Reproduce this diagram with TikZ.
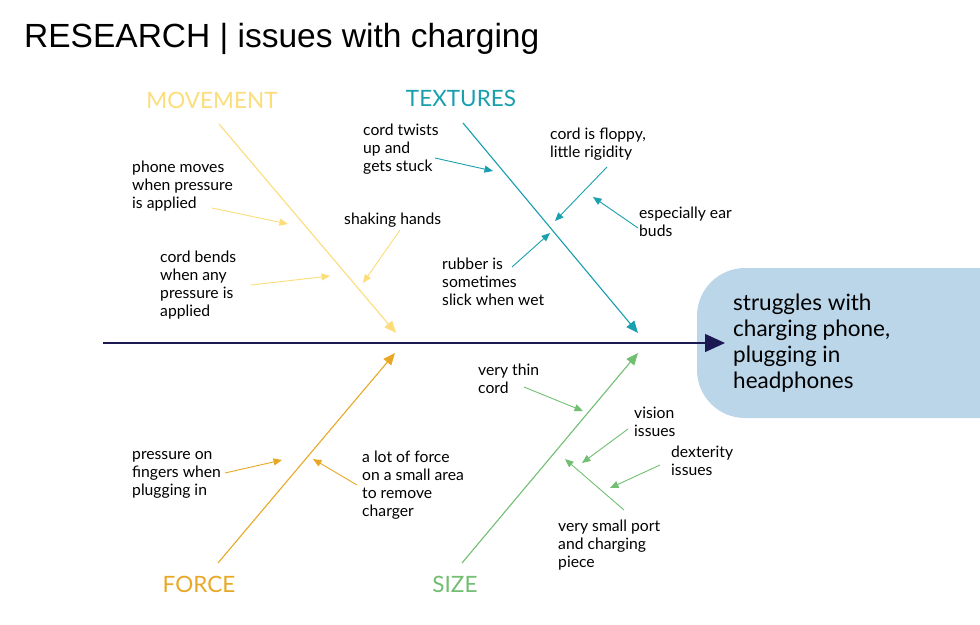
\documentclass[tikz,border=0pt]{standalone}
\usepackage{fontspec}
\setmainfont{Lato}
\newfontfamily\titlefont{Liberation Sans}
\usetikzlibrary{arrows.meta,positioning}
\definecolor{spinenavy}{RGB}{28,24,82}
\definecolor{goalblue}{RGB}{187,213,233}
\definecolor{moveyellow}{RGB}{251,221,122}
\definecolor{textureteal}{RGB}{24,160,174}
\definecolor{forceorange}{RGB}{232,168,38}
\definecolor{sizegreen}{RGB}{114,190,114}
\tikzset{
  cause/.style={font=\fontsize{15.7}{18.2}\selectfont, align=left, anchor=west, inner sep=0pt},
  category/.style={font=\fontsize{22.5}{26}\selectfont, inner sep=0pt},
  bone/.style={-{Triangle[length=12pt,width=10pt]}, line width=1.1pt},
  twig/.style={-{Triangle[length=8.5pt,width=7pt]}, line width=0.9pt},
  spinearrow/.style={-{Triangle[length=20pt,width=18pt]}, line width=1.3pt, spinenavy},
}

\begin{document}
\begin{tikzpicture}[x=1pt,y=-1pt]
\useasboundingbox (0,0) rectangle (980,624);

\node[anchor=west, inner sep=0pt, font=\titlefont\fontsize{33.5}{38}\selectfont] (title) at (24,39) {RESEARCH | issues with charging};

% effect
\fill[goalblue, rounded corners=48pt] (697,268) rectangle (1050,418);
\node[anchor=west, align=left, inner xsep=8pt, font=\fontsize{22.5}{26}\selectfont] (goal) at (725,343)
 {struggles with\\charging phone,\\plugging in\\headphones};
\coordinate (spinetail) at (103,343);
\draw[spinearrow] (spinetail) -- (goal.west);

% categories
\node[category, text=moveyellow] (movement) at (212,100) {MOVEMENT};
\node[category, text=textureteal] (textures) at (461,98) {TEXTURES};
\node[category, text=forceorange] (force) at (199,584) {FORCE};
\node[category, text=sizegreen] (size) at (455,584) {SIZE};

\coordinate (movetail) at (219,124);
\coordinate (movehead) at (396,333);
\coordinate (texttail) at (463,123);
\coordinate (texthead) at (638,333);
\coordinate (forcetail) at (218,563);
\coordinate (forcehead) at (395,353);
\coordinate (sizetail) at (462,563);
\coordinate (sizehead) at (638,353);
\draw[bone, moveyellow] (movetail) -- (movehead);
\draw[bone, textureteal] (texttail) -- (texthead);
\draw[bone, forceorange] (forcetail) -- (forcehead);
\draw[bone, sizegreen] (sizetail) -- (sizehead);

% movement causes
\node[cause] (phonemoves) at (132,186) {phone moves\\when pressure\\is applied};
\node[cause] (cordbends) at (160,285) {cord bends\\when any\\pressure is\\applied};
\node[cause] (shaking) at (344,220) {shaking hands};
\coordinate (m1a) at (212,208); \coordinate (m1b) at (288,224);
\coordinate (m2a) at (251,285); \coordinate (m2b) at (330,276);
\coordinate (m3a) at (400,230); \coordinate (m3b) at (363,283);
\draw[twig, moveyellow] (m1a) -- (m1b);
\draw[twig, moveyellow] (m2a) -- (m2b);
\draw[twig, moveyellow] (m3a) -- (m3b);

% texture causes
\node[cause] (twists) at (363,149) {cord twists\\up and\\gets stuck};
\node[cause] (floppy) at (550,144) {cord is floppy,\\little rigidity};
\node[cause] (earbuds) at (639,222) {especially ear\\buds};
\node[cause] (rubber) at (442,282) {rubber is\\sometimes\\slick when wet};
\coordinate (t1a) at (435,158); \coordinate (t1b) at (493,171);
\coordinate (t2a) at (607,167); \coordinate (t2b) at (555,221);
\coordinate (t3a) at (638,228); \coordinate (t3b) at (593,197);
\coordinate (t4a) at (512,267); \coordinate (t4b) at (550,233);
\draw[twig, textureteal] (t1a) -- (t1b);
\draw[twig, textureteal] (t2a) -- (t2b);
\draw[twig, textureteal] (t3a) -- (t3b);
\draw[twig, textureteal] (t4a) -- (t4b);

% force causes
\node[cause] (fingers) at (132,475) {pressure on\\fingers when\\plugging in};
\node[cause] (lotforce) at (362,485) {a lot of force\\on a small area\\to remove\\charger};
\coordinate (f1a) at (225,473); \coordinate (f1b) at (282,460);
\coordinate (f2a) at (357,485); \coordinate (f2b) at (313,459);
\draw[twig, forceorange] (f1a) -- (f1b);
\draw[twig, forceorange] (f2a) -- (f2b);

% size causes
\node[cause] (thincord) at (478,379) {very thin\\cord};
\node[cause] (vision) at (634,422) {vision\\issues};
\node[cause] (dexterity) at (671,461) {dexterity\\issues};
\node[cause] (smallport) at (558,545) {very small port\\and charging\\piece};
\coordinate (s1a) at (524,387); \coordinate (s1b) at (583,411);
\coordinate (s2a) at (628,429); \coordinate (s2b) at (582,463);
\coordinate (s3a) at (660,465); \coordinate (s3b) at (610,488);
\coordinate (s4a) at (624,510); \coordinate (s4b) at (565,459);
\draw[twig, sizegreen] (s1a) -- (s1b);
\draw[twig, sizegreen] (s2a) -- (s2b);
\draw[twig, sizegreen] (s3a) -- (s3b);
\draw[twig, sizegreen] (s4a) -- (s4b);
\end{tikzpicture}
\end{document}
